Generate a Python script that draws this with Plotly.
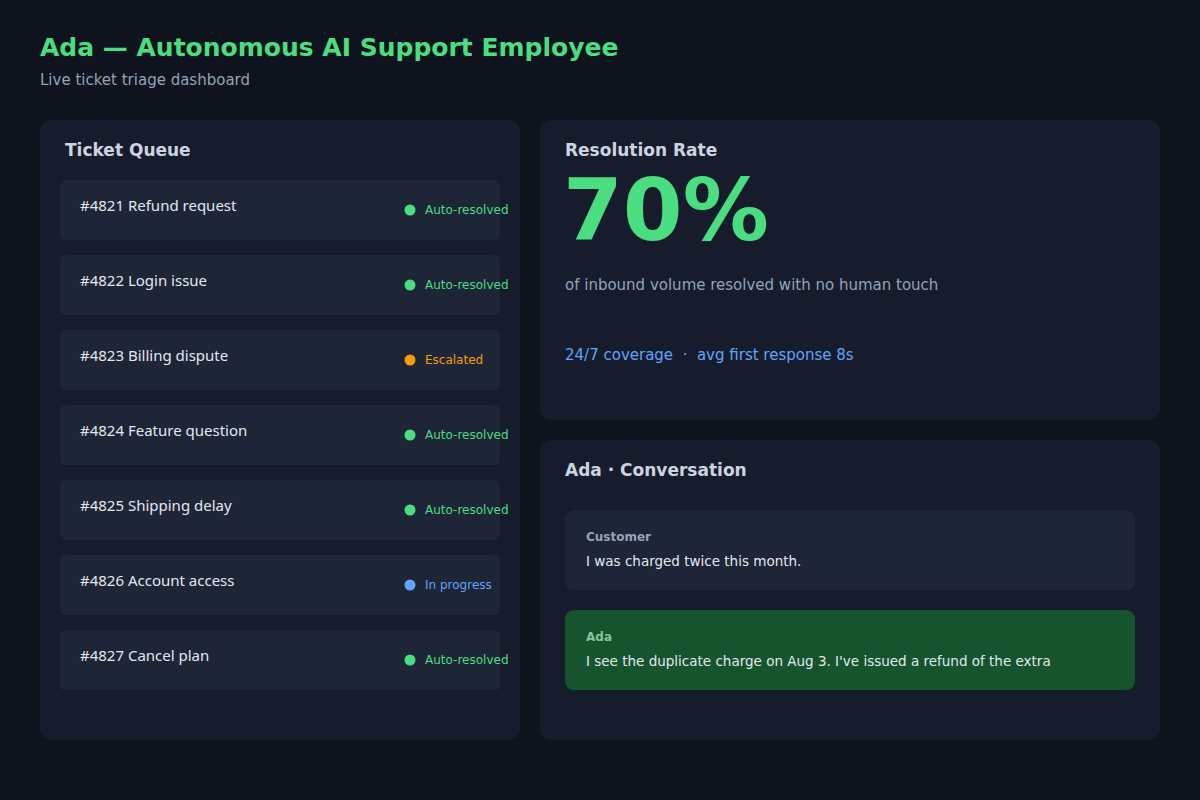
import plotly.graph_objects as go

tickets = ["#4821 Refund request", "#4822 Login issue", "#4823 Billing dispute",
           "#4824 Feature question", "#4825 Shipping delay", "#4826 Account access",
           "#4827 Cancel plan"]
statuses = ["Auto-resolved", "Auto-resolved", "Escalated", "Auto-resolved",
            "Auto-resolved", "In progress", "Auto-resolved"]
status_colors = {"Auto-resolved": "#4ade80", "Escalated": "#f59e0b", "In progress": "#60a5fa"}
resolution_rate = 70
chat_roles = ["Customer", "Ada"]
chat_texts = ["I was charged twice this month.",
              "I see the duplicate charge on Aug 3. I've issued a refund of the extra"]

BG = "#0f131d"; PANEL = "#161c2c"; ROW = "#1e2537"
FONT = "DejaVu Sans"

def rrect(x0, y0, x1, y1, r, color):
    p = (f"M{x0+r},{y0} L{x1-r},{y0} Q{x1},{y0} {x1},{y0+r} L{x1},{y1-r} Q{x1},{y1} {x1-r},{y1} "
         f"L{x0+r},{y1} Q{x0},{y1} {x0},{y1-r} L{x0},{y0+r} Q{x0},{y0} {x0+r},{y0} Z")
    return dict(type="path", path=p, fillcolor=color, line=dict(width=0), layer="below",
                xref="x", yref="y")

shapes = [rrect(40, 120, 520, 740, 12, PANEL), rrect(540, 120, 1160, 420, 12, PANEL),
          rrect(540, 440, 1160, 740, 12, PANEL)]
ann = []
def txt(x, y, s, size, color, bold=False, anchor="left", font=FONT):
    ann.append(dict(x=x, y=y, xref="x", yref="y", text=f"<b>{s}</b>" if bold else s,
                    showarrow=False, xanchor=anchor, yanchor="middle",
                    font=dict(family=font, size=size, color=color)))

txt(38, 47, "Ada — Autonomous AI Support Employee", 25, "#4ade80", True)
txt(38, 80, "Live ticket triage dashboard", 15, "#94a3b8")
txt(63, 150, "Ticket Queue", 17, "#cbd5e1", True)

ys = []
for i, (t, s) in enumerate(zip(tickets, statuses)):
    y0 = 180 + 75 * i
    shapes.append(rrect(60, y0, 500, y0 + 60, 6, ROW))
    txt(78, y0 + 25, t, 15, "#e2e8f0", font="Noto Sans")
    txt(423, y0 + 30, s, 12, status_colors[s])
    ys.append(y0 + 30)

fig = go.Figure()
fig.add_trace(go.Scatter(x=[410] * len(tickets), y=ys, mode="markers", hoverinfo="skip",
                         marker=dict(size=11, color=[status_colors[s] for s in statuses])))

txt(563, 150, "Resolution Rate", 17, "#cbd5e1", True)
txt(561, 210, f"{resolution_rate}%", 86, "#4ade80", True)
txt(563, 285, "of inbound volume resolved with no human touch", 15, "#94a3b8")
txt(563, 355, "24/7 coverage  ·  avg first response 8s", 15, "#60a5fa")

txt(563, 470, "Ada · Conversation", 17, "#cbd5e1", True)
bub_cols = [ROW, "#16542e"]
role_cols = ["#94a3b8", "#86c79a"]
for i, (r, t) in enumerate(zip(chat_roles, chat_texts)):
    y0 = 510 + 100 * i
    shapes.append(rrect(565, y0, 1135, y0 + 80, 10, bub_cols[i]))
    txt(584, y0 + 27, r, 12, role_cols[i], True)
    txt(584, y0 + 51, t, 13.5, "#e2e8f0")

fig.update_layout(width=1200, height=800, margin=dict(l=0, r=0, t=0, b=0),
                  paper_bgcolor=BG, plot_bgcolor=BG, showlegend=False,
                  shapes=shapes, annotations=ann,
                  xaxis=dict(range=[0, 1200], visible=False, fixedrange=True),
                  yaxis=dict(range=[800, 0], visible=False, fixedrange=True))
fig.write_html("out.html", config={"displayModeBar": False},
               post_script="document.body.style.margin='0';document.body.style.background='#0f131d';")
